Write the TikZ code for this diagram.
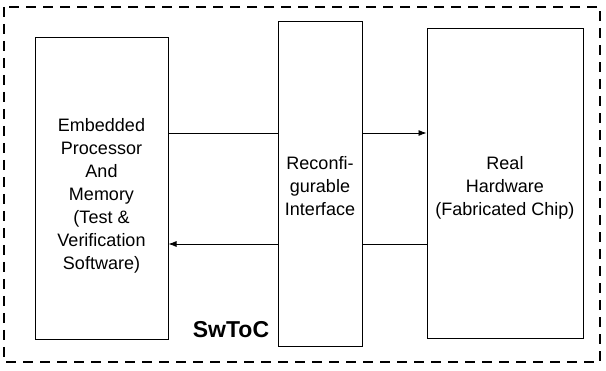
\documentclass[tikz,border=0pt]{standalone}
\usepackage{fontspec}
\setmainfont{Liberation Sans}
\usetikzlibrary{arrows.meta}
\tikzset{
    block/.style={draw, line width=1pt, inner sep=0pt},
    caption/.style={align=center, inner sep=0pt, font=\fontsize{18}{23}\selectfont},
    frame/.style={draw, line width=2pt, dash pattern=on 10pt off 7pt},
    link/.style={line width=0.8pt},
    linkarrow/.style={line width=0.8pt, -{Latex[length=8pt,width=6pt]}}
}
\begin{document}
\begin{tikzpicture}[x=1pt, y=-1pt]
    \useasboundingbox (0, 0) rectangle (606, 371);

    % Outer frame
    \draw[frame] (4, 7) rectangle (600, 362);

    % Blocks
    \node[block, minimum width=133pt, minimum height=302pt] (embedded) at (101.5, 189) {};
    \node[block, minimum width=84pt, minimum height=325pt] (interface) at (320, 184.5) {};
    \node[block, minimum width=156pt, minimum height=310pt] (hardware) at (505, 184) {};

    % Texts
    \node[caption] (embeddedtext) at ([yshift=-7pt]embedded.center)
        {Embedded\\Processor\\And\\Memory\\(Test \&\\Verification\\Software)};
    \node[caption] (interfacetext) at ([yshift=-2pt]interface.center)
        {Reconfi-\\gurable\\Interface};
    \node[caption] (hardwaretext) at ([yshift=-4pt]hardware.center)
        {Real\\Hardware\\(Fabricated Chip)};
    \node[anchor=base, inner sep=0pt, font=\fontsize{23}{27}\selectfont\bfseries] (swtoc) at (231, 338) {SwToC};

    % Connections
    \coordinate (up) at (0, 133);
    \coordinate (down) at (0, 244);
    \draw[link] (embedded.east |- up) -- (interface.west |- up);
    \draw[linkarrow] (interface.east |- up) -- (hardware.west |- up);
    \draw[link] (hardware.west |- down) -- (interface.east |- down);
    \draw[linkarrow] (interface.west |- down) -- (embedded.east |- down);
\end{tikzpicture}
\end{document}
